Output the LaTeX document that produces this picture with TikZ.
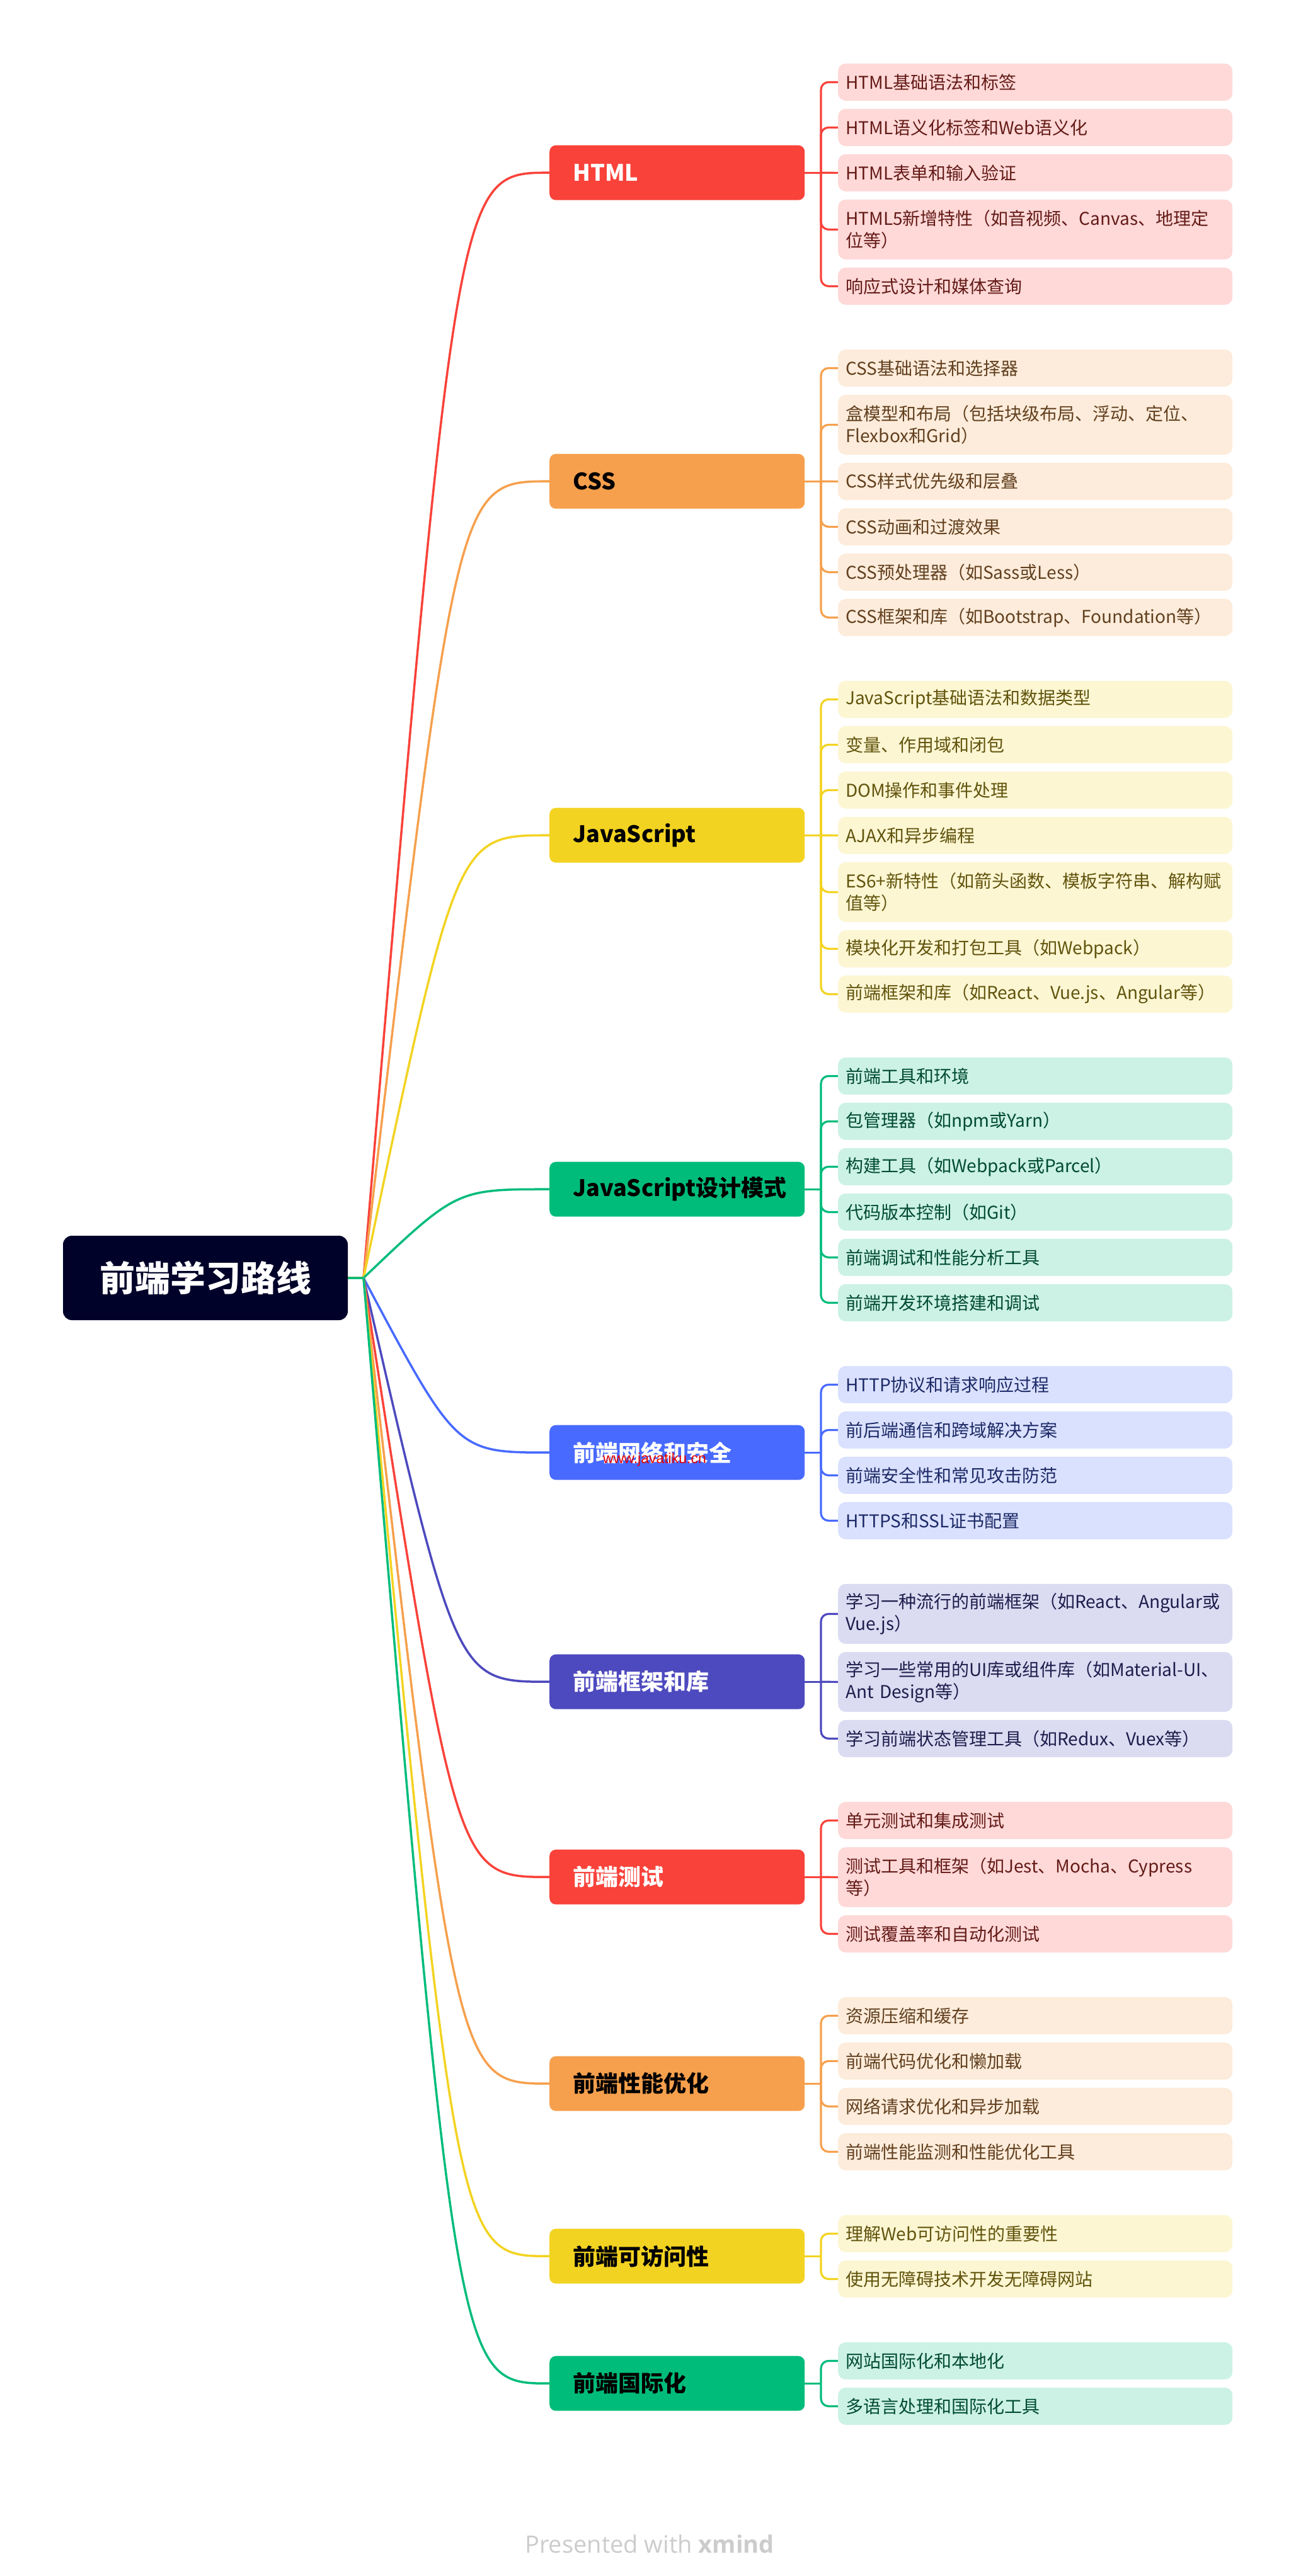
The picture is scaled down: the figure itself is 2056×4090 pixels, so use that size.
\documentclass[tikz,border=0pt]{standalone}
\usepackage{fontspec}
\setmainfont{Noto Sans CJK SC}
\newfontfamily\ftfamily{Open Sans}
\newfontfamily\wmfamily{Liberation Sans}
\usetikzlibrary{backgrounds}
\definecolor{cRed}{HTML}{F9423A}
\definecolor{cOrg}{HTML}{F6A04D}
\definecolor{cYel}{HTML}{F3D321}
\definecolor{cGrn}{HTML}{00BC7B}
\definecolor{cBlu}{HTML}{486AFF}
\definecolor{cPur}{HTML}{4D49BE}
\definecolor{cRoot}{HTML}{000229}
\newcommand\lffont{\fontsize{28}{34.3}\selectfont\exhyphenpenalty=10000\hyphenpenalty=10000}
\newcommand\brfont{\fontsize{36}{40}\selectfont\bfseries}
\newcommand\rtfont{\fontsize{56}{60}\selectfont\bfseries}
\newcommand\mleaf[5]{\node[leaf, minimum height=#3pt, fill=#4!20!white, text=#4!40!black] (#1) at (1330,#2) {#5};}
\newcommand\mtopic[5]{\node[topic, fill=#3, text=#4] (#1) at (872,#2) {\makebox[331pt][l]{#5}};}
\def\nonestr{none}
\begin{document}
\begin{tikzpicture}[x=1pt,y=-1pt,
  leaf/.style={anchor=north west, rounded corners=12pt, inner xsep=12pt, inner ysep=0pt, text width=602pt, align=left, font=\lffont},
  topic/.style={anchor=west, rounded corners=10pt, minimum height=87pt, inner xsep=37pt, inner ysep=0pt, font=\brfont},
  rconn/.style={line width=3.5pt},
  lconn/.style={line width=3.2pt, rounded corners=12pt}]
\useasboundingbox (0,0) rectangle (2056,4090);
% root
\node[fill=cRoot, rounded corners=14pt, minimum width=452pt, minimum height=134pt, inner sep=0pt, text=white, font=\rtfont] (root) at (326,2029) {前端学习路线};
\coordinate (J) at (577,2029);
% topics
\mtopic{m1}{274.2}{cRed}{white}{HTML}
\mtopic{m2}{764.2}{cOrg}{black}{CSS}
\mtopic{m3}{1326.2}{cYel}{black}{JavaScript}
\mtopic{m4}{1888.2}{cGrn}{black}{JavaScript设计模式}
\mtopic{m5}{2306.2}{cBlu}{white}{前端网络和安全}
\mtopic{m6}{2670.2}{cPur}{white}{前端框架和库}
\mtopic{m7}{2980.2}{cRed}{white}{前端测试}
\mtopic{m8}{3308.2}{cOrg}{black}{前端性能优化}
\mtopic{m9}{3582.2}{cYel}{black}{前端可访问性}
\mtopic{m10}{3784.2}{cGrn}{black}{前端国际化}
\node[font=\wmfamily\fontsize{23}{25}\selectfont, text=red!90!black, anchor=base west, inner sep=0pt] (wm) at (957,2323) {www.javatiku.cn};
% leaves
\mleaf{l1a}{100.7}{59}{cRed}{HTML基础语法和标签}
\mleaf{l1b}{172.7}{59}{cRed}{HTML语义化标签和Web语义化}
\mleaf{l1c}{244.7}{59}{cRed}{HTML表单和输入验证}
\mleaf{l1d}{316.7}{95}{cRed}{HTML5新增特性（如音视频、Canvas、地理定\\位等）}
\mleaf{l1e}{424.7}{59}{cRed}{响应式设计和媒体查询}
\mleaf{l2a}{554.7}{59}{cOrg}{CSS基础语法和选择器}
\mleaf{l2b}{626.7}{95}{cOrg}{盒模型和布局（包括块级布局、浮动、定位、\\Flexbox和Grid）}
\mleaf{l2c}{734.7}{59}{cOrg}{CSS样式优先级和层叠}
\mleaf{l2d}{806.7}{59}{cOrg}{CSS动画和过渡效果}
\mleaf{l2e}{878.7}{59}{cOrg}{CSS预处理器（如Sass或Less）}
\mleaf{l2f}{950.7}{59}{cOrg}{CSS框架和库（如Bootstrap、Foundation等）}
\mleaf{l3a}{1080.7}{59}{cYel}{JavaScript基础语法和数据类型}
\mleaf{l3b}{1152.7}{59}{cYel}{变量、作用域和闭包}
\mleaf{l3c}{1224.7}{59}{cYel}{DOM操作和事件处理}
\mleaf{l3d}{1296.7}{59}{cYel}{AJAX和异步编程}
\mleaf{l3e}{1368.7}{95}{cYel}{ES6+新特性（如箭头函数、模板字符串、解构赋\\值等）}
\mleaf{l3f}{1476.7}{59}{cYel}{模块化开发和打包工具（如Webpack）}
\mleaf{l3g}{1548.7}{59}{cYel}{前端框架和库（如React、Vue.js、Angular等）}
\mleaf{l4a}{1678.7}{59}{cGrn}{前端工具和环境}
\mleaf{l4b}{1750.7}{59}{cGrn}{包管理器（如npm或Yarn）}
\mleaf{l4c}{1822.7}{59}{cGrn}{构建工具（如Webpack或Parcel）}
\mleaf{l4d}{1894.7}{59}{cGrn}{代码版本控制（如Git）}
\mleaf{l4e}{1966.7}{59}{cGrn}{前端调试和性能分析工具}
\mleaf{l4f}{2038.7}{59}{cGrn}{前端开发环境搭建和调试}
\mleaf{l5a}{2168.7}{59}{cBlu}{HTTP协议和请求响应过程}
\mleaf{l5b}{2240.7}{59}{cBlu}{前后端通信和跨域解决方案}
\mleaf{l5c}{2312.7}{59}{cBlu}{前端安全性和常见攻击防范}
\mleaf{l5d}{2384.7}{59}{cBlu}{HTTPS和SSL证书配置}
\mleaf{l6a}{2514.7}{95}{cPur}{学习一种流行的前端框架（如React、Angular或\\Vue.js）}
\mleaf{l6b}{2622.7}{95}{cPur}{学习一些常用的UI库或组件库（如Material-UI、\\Ant Design等）}
\mleaf{l6c}{2730.7}{59}{cPur}{学习前端状态管理工具（如Redux、Vuex等）}
\mleaf{l7a}{2860.7}{59}{cRed}{单元测试和集成测试}
\mleaf{l7b}{2932.7}{95}{cRed}{测试工具和框架（如Jest、Mocha、Cypress\\等）}
\mleaf{l7c}{3040.7}{59}{cRed}{测试覆盖率和自动化测试}
\mleaf{l8a}{3170.7}{59}{cOrg}{资源压缩和缓存}
\mleaf{l8b}{3242.7}{59}{cOrg}{前端代码优化和懒加载}
\mleaf{l8c}{3314.7}{59}{cOrg}{网络请求优化和异步加载}
\mleaf{l8d}{3386.7}{59}{cOrg}{前端性能监测和性能优化工具}
\mleaf{l9a}{3516.7}{59}{cYel}{理解Web可访问性的重要性}
\mleaf{l9b}{3588.7}{59}{cYel}{使用无障碍技术开发无障碍网站}
\mleaf{l10a}{3718.7}{59}{cGrn}{网站国际化和本地化}
\mleaf{l10b}{3790.7}{59}{cGrn}{多语言处理和国际化工具}
% footer
\node[font=\ftfamily\fontsize{38}{40}\selectfont, text=black!20, anchor=base, inner sep=0pt] (ft) at (1031,4053) {Presented with \textbf{xmind}};
% connectors
\begin{scope}[on background layer]
\fill[white] (0,0) rectangle (2056,4090);
\foreach \m/\c/\y in {m1/cRed/274.2, m2/cOrg/764.2, m3/cYel/1326.2, m4/cGrn/1888.2, m5/cBlu/2306.2, m6/cPur/2670.2, m7/cRed/2980.2, m8/cOrg/3308.2, m9/cYel/3582.2, m10/cGrn/3784.2}
  \draw[rconn, \c] (root.east) -- (J) .. controls (724.5,\y) .. (\m.west);
\foreach \m/\c/\y/\md/\ls in {
  m1/cRed/274.2/l1c/{l1a,l1b,l1d,l1e},
  m2/cOrg/764.2/l2c/{l2a,l2b,l2d,l2e,l2f},
  m3/cYel/1326.2/l3d/{l3a,l3b,l3c,l3e,l3f,l3g},
  m4/cGrn/1888.2/none/{l4a,l4b,l4c,l4d,l4e,l4f},
  m5/cBlu/2306.2/none/{l5a,l5b,l5c,l5d},
  m6/cPur/2670.2/l6b/{l6a,l6c},
  m7/cRed/2980.2/l7b/{l7a,l7c},
  m8/cOrg/3308.2/none/{l8a,l8b,l8c,l8d},
  m9/cYel/3582.2/none/{l9a,l9b},
  m10/cGrn/3784.2/none/{l10a,l10b}} {
  \coordinate (s-\m) at (1303,\y);
  \draw[lconn, \c] (\m.east) -- (s-\m);
  \foreach \l in \ls { \draw[lconn, \c] (s-\m) |- (\l.west); }
  \ifx\md\nonestr\else \draw[lconn, \c] (s-\m) -- (\md.west); \fi
}
\end{scope}
\end{tikzpicture}
\end{document}
